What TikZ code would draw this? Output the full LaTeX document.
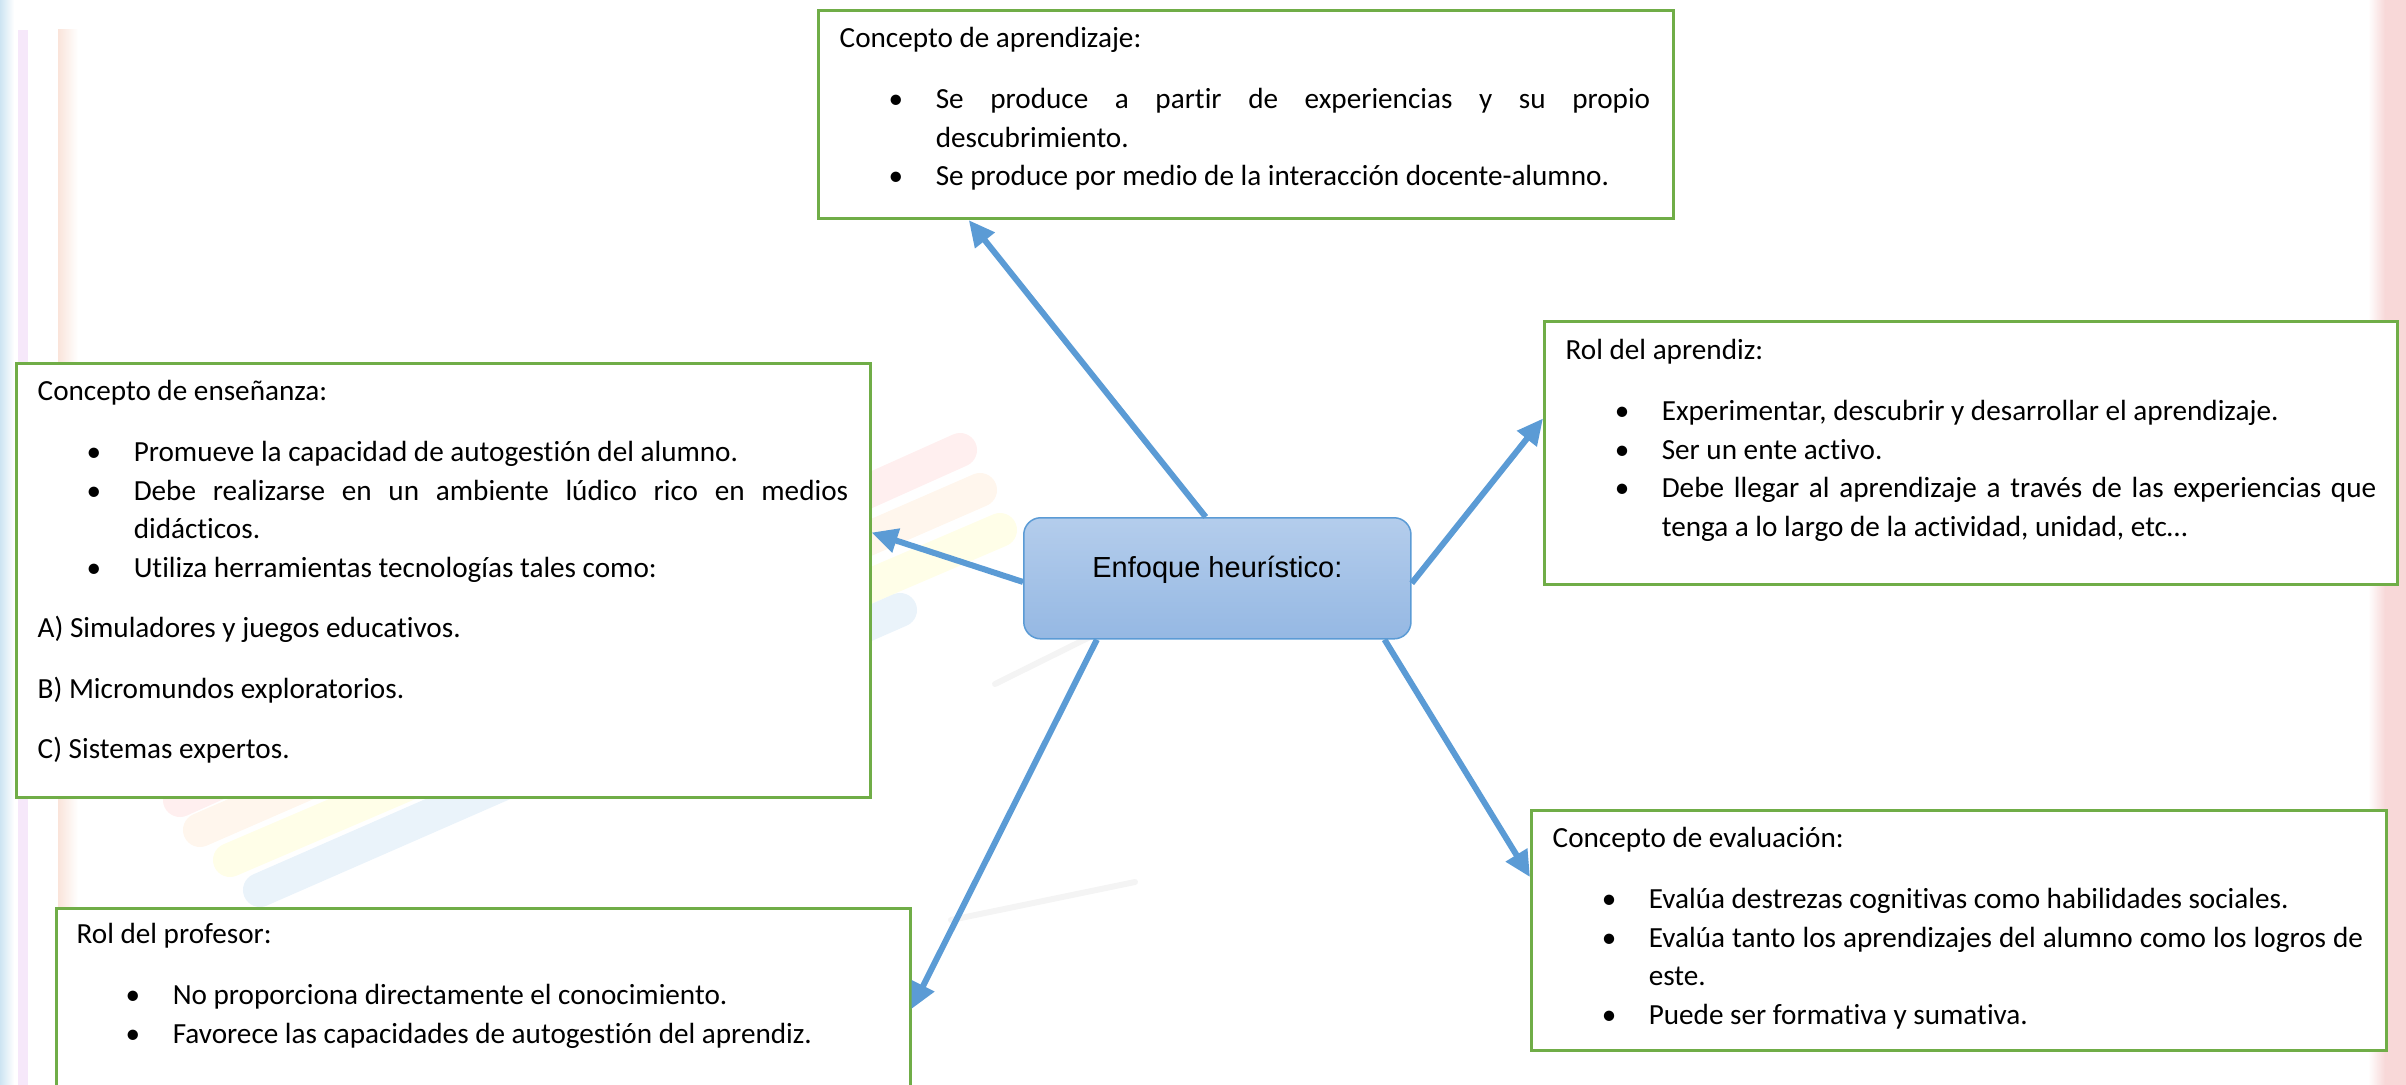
\documentclass[tikz,border=0pt]{standalone}
\usepackage{fontspec}
\setmainfont{Carlito}[Ligatures=NoCommon]
\newfontfamily\arialfont{Liberation Sans}
\usetikzlibrary{arrows.meta,calc}

\definecolor{verde}{RGB}{112,173,71}
\definecolor{azul}{RGB}{91,155,213}
\definecolor{azulclaro}{RGB}{180,205,236}
\definecolor{azulmedio}{RGB}{149,184,227}
\definecolor{franjaazul}{RGB}{205,228,242}
\definecolor{franjalila}{RGB}{246,232,250}
\definecolor{franjamelon}{RGB}{250,228,218}
\definecolor{franjarosa}{RGB}{248,216,216}

% vinetas de las listas
\newcommand{\punto}[1]{\hspace*{0.49cm}\makebox[0.47cm][l]{\textbullet}#1}
\newcommand{\sigue}[1]{\hspace*{0.96cm}#1}
\newcommand{\just}[1]{\makebox[7.14cm][s]{#1}}

\tikzset{
  caja/.style={draw=verde, line width=0.03cm, fill=white, anchor=north west, inner sep=0pt},
  texto/.style={anchor=north west, inner sep=0pt, align=left,
    font=\fontsize{8.3pt}{0.385cm}\selectfont},
  flecha/.style={draw=azul, line width=0.06cm, -{Triangle[length=0.26cm,width=0.24cm]}},
}

\begin{document}
\begin{tikzpicture}[x=0.01cm,y=-0.01cm]
 \useasboundingbox (0,0) rectangle (2406,1085);
 \clip (0,0) rectangle (2406,1085);

% Fondo: franjas de los bordes
 \shade[left color=franjaazul, right color=white] (0,0) rectangle (14,1085);
 \fill[franjalila] (18,30) rectangle (28,1085);
 \shade[left color=franjamelon, right color=white] (58,30) rectangle (78,1085);
 \shade[left color=white, right color=franjarosa] (2368,0) rectangle (2385,1085);
 \fill[franjarosa] (2385,0) rectangle (2406,1085);

% Fondo: trazo de colores
 \begin{scope}[opacity=0.09, line cap=round, line width=0.34cm]
  \draw[red!70] (180,800) -- (960,450);
  \draw[orange!80] (200,830) -- (980,490);
  \draw[yellow] (230,860) -- (1000,530);
  \draw[cyan!60!blue] (260,890) -- (900,610);
  \draw[gray, line width=0.06cm] (951,920) -- (1135,882);
  \draw[gray, line width=0.06cm] (995,684) -- (1110,627);
 \end{scope}

% Cajas
 \node[caja, minimum width=8.54cm, minimum height=2.08cm] (apr) at (817,9) {};
 \node[texto] (apr-t) at (839,27) {Concepto de aprendizaje:\\[0.22cm]
   \punto{\just{Se produce a partir de experiencias y su propio}}\\
   \sigue{descubrimiento.}\\
   \punto{Se produce por medio de la interacción docente-alumno.}};

 \node[caja, minimum width=8.53cm, minimum height=4.34cm] (ens) at (15,362) {};
 \node[texto] (ens-t) at (37,380) {Concepto de enseñanza:\\[0.22cm]
   \punto{Promueve la capacidad de autogestión del alumno.}\\
   \punto{\just{Debe realizarse en un ambiente lúdico rico en medios}}\\
   \sigue{didácticos.}\\
   \punto{Utiliza herramientas tecnologías tales como:}\\[0.22cm]
   A) Simuladores y juegos educativos.\\[0.22cm]
   B) Micromundos exploratorios.\\[0.22cm]
   C) Sistemas expertos.};

 \node[caja, minimum width=8.52cm, minimum height=2.63cm] (aprz) at (1543,320) {};
 \node[texto] (aprz-t) at (1565,339) {Rol del aprendiz:\\[0.22cm]
   \punto{Experimentar, descubrir y desarrollar el aprendizaje.}\\
   \punto{Ser un ente activo.}\\
   \punto{\just{Debe llegar al aprendizaje a través de las experiencias que}}\\
   \sigue{tenga a lo largo de la actividad, unidad, etc…}};

 \node[caja, minimum width=8.54cm, minimum height=2.40cm] (eval) at (1530,809) {};
 \node[texto] (eval-t) at (1552,827) {Concepto de evaluación:\\[0.22cm]
   \punto{Evalúa destrezas cognitivas como habilidades sociales.}\\
   \punto{\just{Evalúa tanto los aprendizajes del alumno como los logros de}}\\
   \sigue{este.}\\
   \punto{Puede ser formativa y sumativa.}};

 \node[caja, minimum width=8.53cm, minimum height=1.93cm] (prof) at (55,907) {};
 \node[texto] (prof-t) at (76,923) {Rol del profesor:\\[0.22cm]
   \punto{No proporciona directamente el conocimiento.}\\
   \punto{Favorece las capacidades de autogestión del aprendiz.}};

% Nodo central
 \node[anchor=north west, draw=azul, line width=0.015cm, rounded corners=0.17cm,
   top color=azulclaro, bottom color=azulmedio,
   minimum width=3.87cm, minimum height=1.21cm, text height=0.21cm, text depth=0.22cm,
   font=\arialfont\fontsize{8.25pt}{10pt}\selectfont] (centro) at (1023,517) {Enfoque heurístico:};

% Flechas
 \draw[flecha] ($(centro.north west)!0.47!(centro.north east)$) -- ($(apr.south west)!0.177!(apr.south east)$);
 \draw[flecha] ($(centro.north west)!0.53!(centro.south west)$) -- ($(ens.north east)!0.39!(ens.south east)$);
 \draw[flecha] ($(centro.north east)!0.54!(centro.south east)$) -- ($(aprz.north west)!0.37!(aprz.south west)$);
 \draw[flecha] ($(centro.south west)!0.93!(centro.south east)$) -- ($(eval.north west)!0.28!(eval.south west)$);
 \draw[flecha] ($(centro.south west)!0.19!(centro.south east)$) -- ($(prof.north east)!0.52!(prof.south east)$);

\end{tikzpicture}
\end{document}
